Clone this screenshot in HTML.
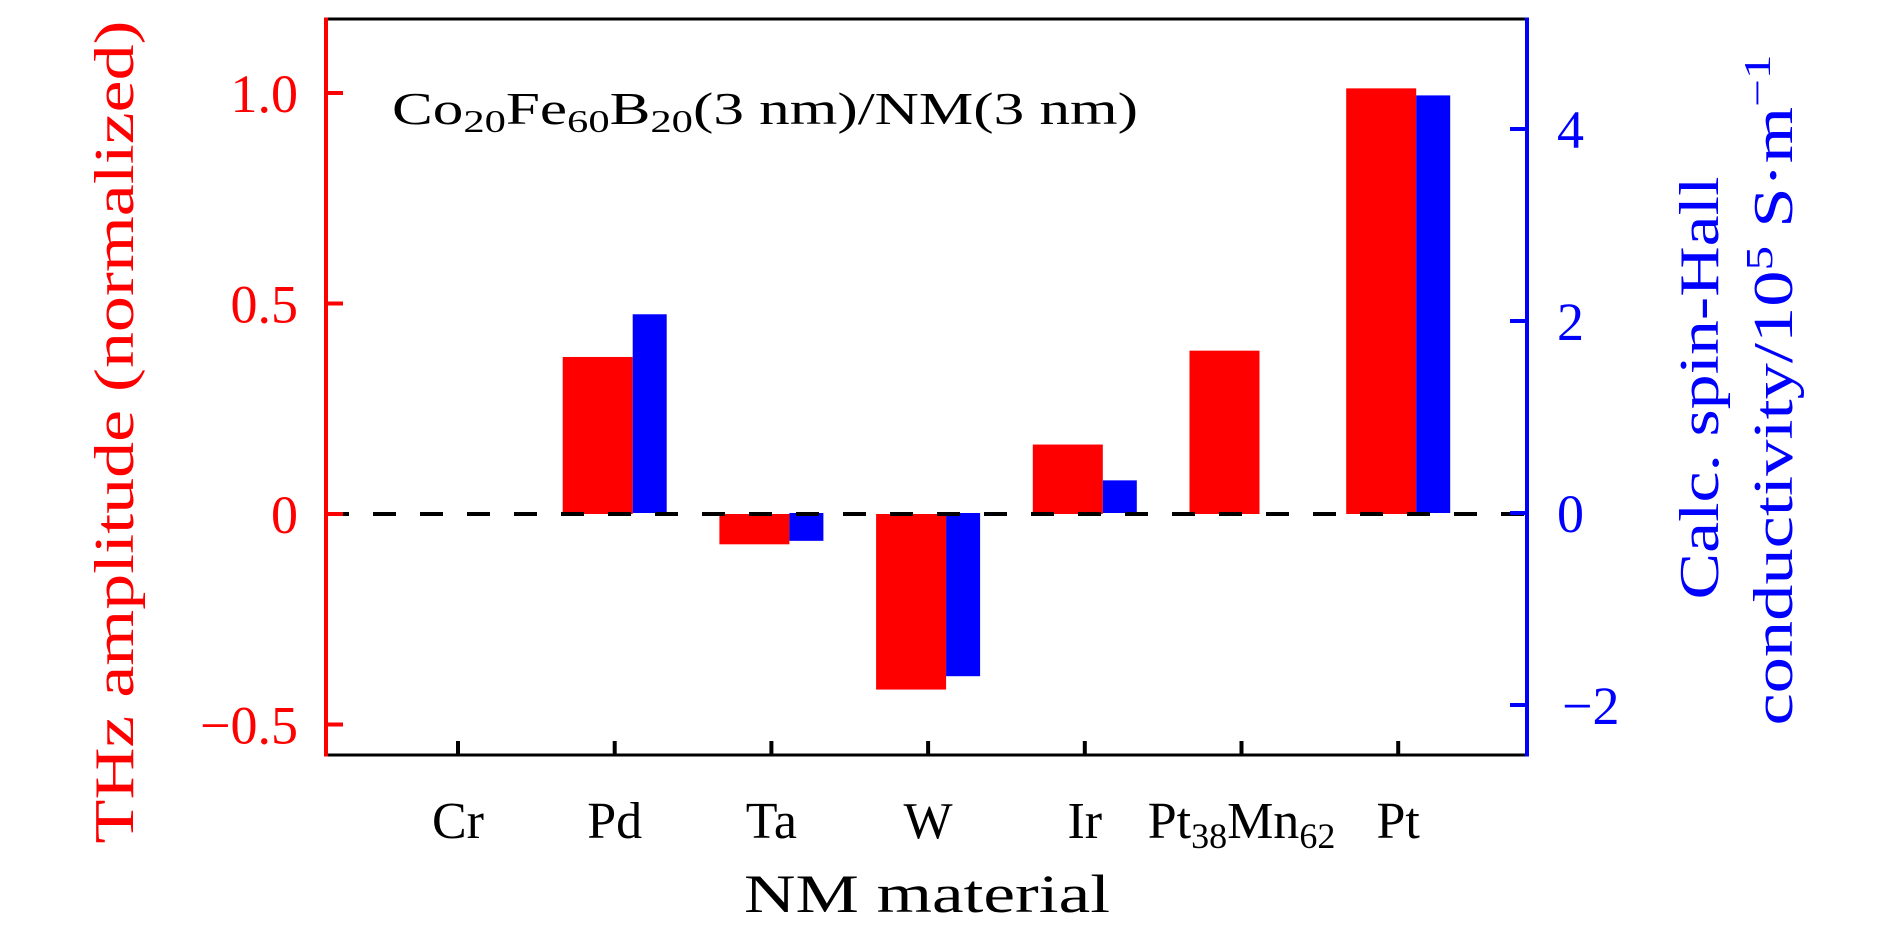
<!DOCTYPE html>
<html><head><meta charset="utf-8"><style>html,body{margin:0;padding:0;background:#fff}body{position:relative}svg{display:block}text{font-family:"Liberation Serif",serif}</style></head>
<body>
<svg id="chart" width="1890" height="945" viewBox="0 0 1890 945">
<g id="plot"></g>
</svg>
<script>
const categories = ["Cr","Pd","Ta","W","Ir","Pt38Mn62","Pt"];
const thzValues = [0, 0.373, -0.072, -0.417, 0.165, 0.388, 1.011];
const shcValues = [null, 2.07, -0.29, -1.70, 0.34, null, 4.35];
const leftTicks = [-0.5, 0, 0.5, 1.0];
const leftTickLabels = ["\u22120.5","0","0.5","1.0"];
const rightTicks = [-2, 0, 2, 4];
const rightTickLabels = ["\u22122","0","2","4"];

const NS = "http://www.w3.org/2000/svg";
const g = document.getElementById('plot');
const L = 326, R = 1527, T = 19, B = 755;
const yL = v => 514 - v * 421;
const yR = v => 513 - v * 96;
const xC = i => 458 + i * 156.7;
function mk(tag, attrs, parent) { const e = document.createElementNS(NS, tag); for (const k in attrs) e.setAttribute(k, attrs[k]); (parent || g).appendChild(e); return e; }

categories.forEach((c, i) => {
  const v = thzValues[i];
  if (v !== null && v !== 0) {
    const r = mk('rect', {x: xC(i) - 52, y: Math.min(yL(v), yL(0)), width: 70, height: Math.abs(yL(v) - yL(0)), fill: '#ff0000'});
    
    
  }
  const s = shcValues[i];
  if (s !== null && s !== 0) {
    const r = mk('rect', {x: xC(i) + 18, y: Math.min(yR(s), yR(0)), width: 34, height: Math.abs(yR(s) - yR(0)), fill: '#0000ff'});
    
    
  }
});

const zl = mk('line', {x1: L, x2: R, y1: yL(0), y2: yL(0), stroke: '#000', 'stroke-width': 4, 'stroke-dasharray': '23 24'});



const top_ = mk('line', {x1: L, x2: R, y1: T, y2: T, stroke: '#000', 'stroke-width': 3});


const bot = mk('line', {x1: L, x2: R, y1: B, y2: B, stroke: '#000', 'stroke-width': 3});


const la = mk('line', {x1: L, x2: L, y1: T - 1.5, y2: B + 1.5, stroke: '#ff0000', 'stroke-width': 4});


const ra = mk('line', {x1: R, x2: R, y1: T - 1.5, y2: B + 1.5, stroke: '#0000ff', 'stroke-width': 4});



leftTicks.forEach((v, i) => {
  const t = mk('line', {x1: L, x2: L + 17, y1: yL(v), y2: yL(v), stroke: '#ff0000', 'stroke-width': 4});
  
  
  const tx = mk('text', {x: 298, y: yL(v) + 19, 'text-anchor': 'end', 'font-size': 54, fill: '#ff0000'});
  tx.textContent = leftTickLabels[i];
  
  
});
rightTicks.forEach((v, i) => {
  const t = mk('line', {x1: R - 17, x2: R, y1: yR(v), y2: yR(v), stroke: '#0000ff', 'stroke-width': 4});
  
  
  const tx = mk('text', {x: v < 0 ? 1562 : 1557, y: yR(v) + 19, 'text-anchor': 'start', 'font-size': 54, fill: '#0000ff'});
  tx.textContent = rightTickLabels[i];
  
  
});
categories.forEach((c, i) => {
  const t = mk('line', {x1: xC(i), x2: xC(i), y1: B, y2: B - 14, stroke: '#000', 'stroke-width': 4});
  
  
  const tx = mk('text', {x: xC(i), y: 838, 'text-anchor': 'middle', 'font-size': 52, fill: '#000'});
  const m = c.match(/^([A-Za-z]+)(\d+)([A-Za-z]+)(\d+)$/);
  if (m) {
    tx.appendChild(document.createTextNode(m[1]));
    const s1 = mk('tspan', {'font-size': 36, dy: 10}, tx); s1.textContent = m[2];
    const s2 = mk('tspan', {dy: -10}, tx); s2.textContent = m[3];
    const s3 = mk('tspan', {'font-size': 36, dy: 10}, tx); s3.textContent = m[4];
  } else tx.textContent = c;
  
  
});
</script>
<svg width="1890" height="945" style="position:absolute;left:0;top:0">
<text x="927" y="912" text-anchor="middle" font-size="54" textLength="366" lengthAdjust="spacingAndGlyphs">NM material</text>
<text transform="translate(133,432) rotate(-90)" text-anchor="middle" font-size="56" fill="#ff0000" textLength="823" lengthAdjust="spacingAndGlyphs">THz amplitude (normalized)</text>
<text transform="translate(1718,388) rotate(-90)" text-anchor="middle" font-size="56" fill="#0000ff" textLength="423" lengthAdjust="spacingAndGlyphs">Calc. spin-Hall</text>
<text transform="translate(1792,390) rotate(-90)" text-anchor="middle" font-size="56" fill="#0000ff" textLength="671" lengthAdjust="spacingAndGlyphs">conductivity/10<tspan font-size="38" dy="-20">5</tspan><tspan dy="20"> S·m</tspan><tspan font-size="38" dy="-22">−1</tspan></text>
<text x="392" y="124" font-size="46" textLength="746" lengthAdjust="spacingAndGlyphs">Co<tspan font-size="32" dy="8">20</tspan><tspan dy="-8">Fe</tspan><tspan font-size="32" dy="8">60</tspan><tspan dy="-8">B</tspan><tspan font-size="32" dy="8">20</tspan><tspan dy="-8">(3 nm)/NM(3 nm)</tspan></text>
</svg>
</body></html>
